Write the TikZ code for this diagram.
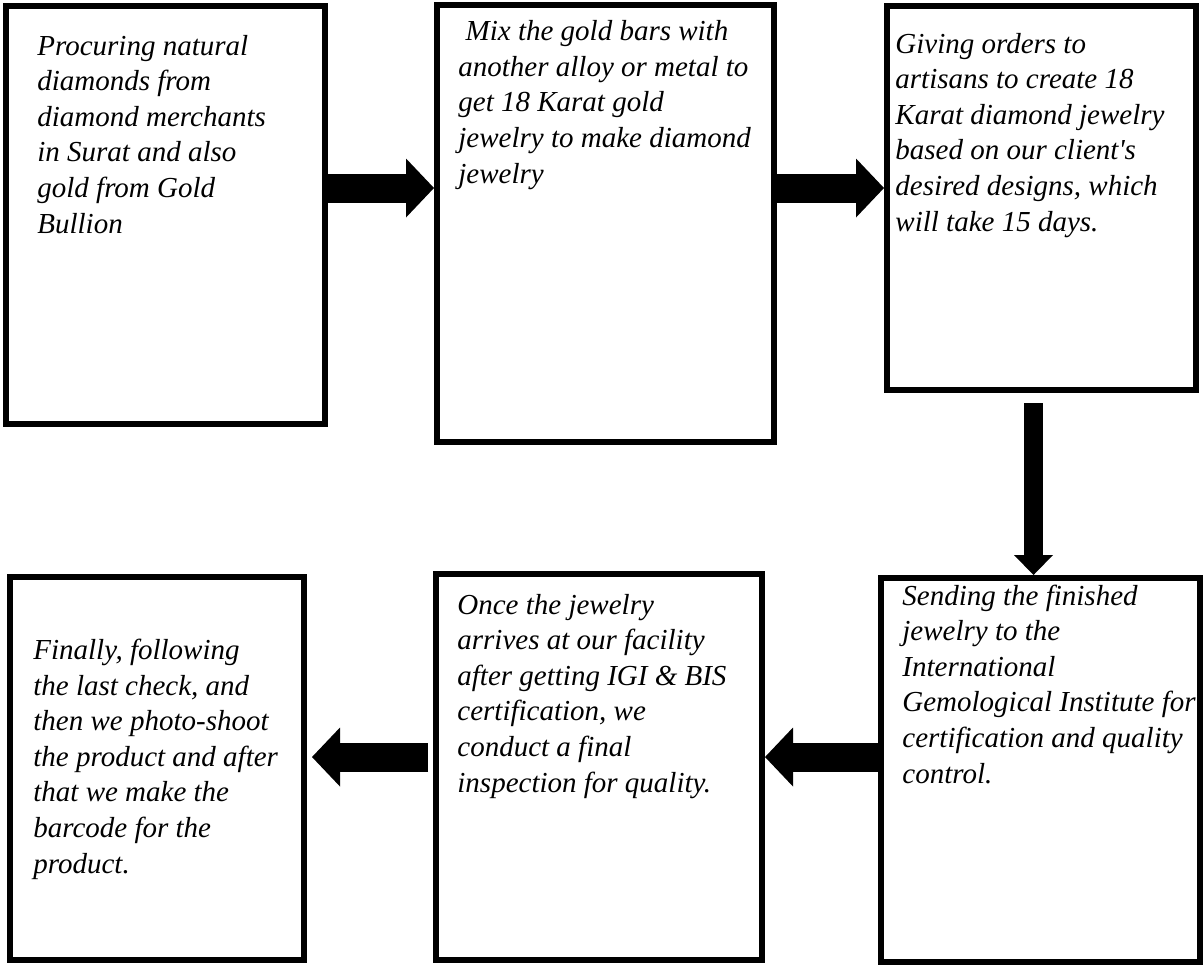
\documentclass[tikz,border=0pt]{standalone}
\usepackage{fontspec}
\setmainfont{Liberation Serif}
\usetikzlibrary{arrows.meta}
\begin{document}
\begin{tikzpicture}[x=0.5pt, y=-0.5pt, line join=miter,
	box/.style 2 args={draw, line width=3pt, minimum width=#1, minimum height=#2, inner sep=0pt},
	txt/.style={anchor=base west, align=left, inner sep=0pt, font=\fontsize{14.5}{17.8}\selectfont\itshape},
	flow/.style={line width=14.5pt, -{Triangle[width=29.5pt, length=14pt, line width=0pt]}},
	drop/.style={line width=9.5pt, -{Triangle[width=19.5pt, length=10pt, line width=0pt]}}]
	\useasboundingbox (0,0) rectangle (1203,965);
	% the six steps
	\node[box={159.5pt}{209pt}] (b1) at (165.5,215) {};
	\node[box={168.5pt}{218.5pt}] (b2) at (605.5,223.5) {};
	\node[box={154.5pt}{192pt}] (b3) at (1041.5,198) {};
	\node[box={159.5pt}{192pt}] (b4) at (1040.5,770) {};
	\node[box={163pt}{193pt}] (b5) at (599,767) {};
	\node[box={147pt}{191.5pt}] (b6) at (157,768.5) {};
	% texts, placed by the baseline of their last line
	\node[txt] (t1) at (37,233) {Procuring natural\\ diamonds from\\ diamond merchants\\ in Surat and also\\ gold from Gold\\ Bullion};
	\node[txt] (t2) at (458,183) {\ Mix the gold bars with\\ another alloy or metal to\\ get 18 Karat gold\\ jewelry to make diamond\\ jewelry};
	\node[txt] (t3) at (895,231) {Giving orders to\\ artisans to create 18\\ Karat diamond jewelry\\ based on our client\textquotesingle s\\ desired designs, which\\ will take 15 days.};
	\node[txt] (t4) at (902,783) {Sending the finished\\ jewelry to the\\ International\\ Gemological Institute for\\ certification and quality\\ control.};
	\node[txt] (t5) at (457,792) {Once the jewelry\\ arrives at our facility\\ after getting IGI \& BIS\\ certification, we\\ conduct a final\\ inspection for quality.};
	\node[txt] (t6) at (33,873) {Finally, following\\ the last check, and\\ then we photo-shoot\\ the product and after\\ that we make the\\ barcode for the\\ product.};
	% arrows
	\coordinate (r1) at (0,188);
	\coordinate (r3) at (0,757);
	\coordinate (c3) at (1033.5,0);
	\draw[flow] (b1.east |- r1) -- (b2.west |- r1);
	\draw[flow] (b2.east |- r1) -- (b3.west |- r1);
	\draw[drop] ([yshift=-5pt]b3.south -| c3) -- (b4.north -| c3);
	\draw[flow] (b4.west |- r3) -- (b5.east |- r3);
	\draw[flow] ([xshift=-2.5pt]b5.west |- r3) -- ([xshift=2.5pt]b6.east |- r3);
\end{tikzpicture}
\end{document}
